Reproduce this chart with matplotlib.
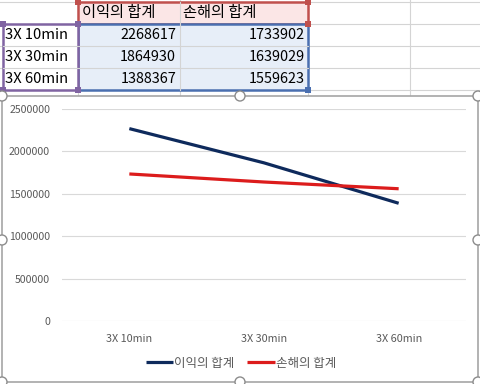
import matplotlib.pyplot as plt
from matplotlib.patches import Rectangle, Circle

plt.rcParams['font.family'] = ['Noto Sans CJK KR', 'DejaVu Sans']

# 데이터
categories = ['3X 10min', '3X 30min', '3X 60min']
series_names = ['이익의 합계', '손해의 합계']
profit = [2268617, 1864930, 1388367]
loss = [1733902, 1639029, 1559623]
yticks = [0, 500000, 1000000, 1500000, 2000000, 2500000]

navy = '#0e2a5c'
red = '#dc1c1c'

fig = plt.figure(figsize=(4.8, 3.84), dpi=100)

# 배경 (픽셀 좌표)
bg = fig.add_axes([0, 0, 1, 1])
bg.set_xlim(0, 480)
bg.set_ylim(384, 0)
bg.axis('off')

# 시트 격자
for y in [2, 24, 46, 68, 90]:
    bg.plot([0, 480], [y, y], color='#d4d4d4', lw=0.8, zorder=0)
for x in [78, 180, 308, 410]:
    bg.plot([x, x], [0, 96], color='#d4d4d4', lw=0.8, zorder=0)

# 표 영역 강조
bg.add_patch(Rectangle((78, 2), 230, 22, facecolor='#fbe6e6', edgecolor='#c0504d', lw=1.8, zorder=1))
bg.add_patch(Rectangle((78, 24), 230, 66, facecolor='#e7eef8', edgecolor='#4a6fb0', lw=1.8, zorder=1))
bg.add_patch(Rectangle((3, 24), 75, 66, facecolor='white', edgecolor='#8064a2', lw=1.8, zorder=1))
bg.plot([180, 180], [2, 90], color='#d4d4d4', lw=0.8, zorder=1.5)
for y in [46, 68]:
    bg.plot([3, 308], [y, y], color='#d4d4d4', lw=0.8, zorder=1.5)
for (x, y, c) in [(78, 2, '#c0504d'), (308, 2, '#c0504d'), (78, 24, '#8064a2'),
                  (308, 24, '#c0504d'), (3, 24, '#8064a2'), (78, 90, '#8064a2'),
                  (308, 90, '#4a6fb0'), (3, 90, '#8064a2')]:
    bg.add_patch(Rectangle((x - 3, y - 3), 6, 6, facecolor=c, edgecolor='none', zorder=2))

# 표 텍스트
bg.text(82, 13, series_names[0], fontsize=11, va='center', ha='left', zorder=3)
bg.text(183, 13, series_names[1], fontsize=11, va='center', ha='left', zorder=3)
for i, cat in enumerate(categories):
    y = 35 + 22 * i
    bg.text(5, y, cat, fontsize=10.6, va='center', ha='left', zorder=3)
    bg.text(176, y, str(profit[i]), fontsize=10.4, va='center', ha='right', zorder=3)
    bg.text(305, y, str(loss[i]), fontsize=10.4, va='center', ha='right', zorder=3)

# 차트 영역
bg.add_patch(Rectangle((2, 96), 476, 286, facecolor='white', edgecolor='#a6a6a6', lw=1.2, zorder=4))
for (x, y) in [(2, 96), (240, 96), (478, 96), (2, 240), (478, 240), (2, 382), (240, 382), (478, 382)]:
    bg.add_patch(Circle((x, y), 5, facecolor='white', edgecolor='#8c8c8c', lw=1.0, zorder=5))

ax = fig.add_axes([62 / 480, (384 - 321) / 384, (466 - 62) / 480, (321 - 109) / 384])
ax.set_zorder(6)
ax.patch.set_alpha(0)
x = list(range(len(categories)))
ax.plot(x, profit, color=navy, lw=2.3, label=series_names[0], solid_capstyle='butt')
ax.plot(x, loss, color=red, lw=2.3, label=series_names[1], solid_capstyle='butt')
ax.set_xlim(-0.5, 2.5)
ax.set_ylim(0, 2500000)
ax.set_yticks(yticks)
ax.set_yticklabels([str(v) for v in yticks])
ax.set_xticks(x)
ax.set_xticklabels(categories)
ax.tick_params(length=0, labelcolor='#595959')
ax.tick_params(axis='x', pad=9, labelsize=7.8)
ax.tick_params(axis='y', pad=8.5, labelsize=7.6)
ax.grid(axis='y', color='#d9d9d9', lw=0.8)
ax.set_axisbelow(True)
for s in ax.spines.values():
    s.set_visible(False)
ax.legend(loc='center', bbox_to_anchor=(241, 363), bbox_transform=bg.transData, ncol=2,
          frameon=False, fontsize=9, labelcolor='#595959', handlelength=2.2,
          handletextpad=0.1, columnspacing=1.0)

fig.savefig('out.png', dpi=100)
